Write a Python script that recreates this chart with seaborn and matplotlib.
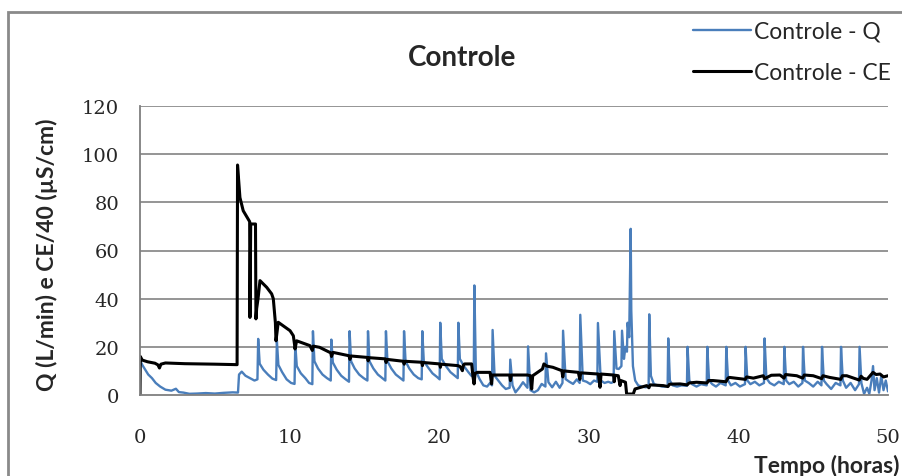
import matplotlib
matplotlib.use("Agg")
import matplotlib.pyplot as plt
from matplotlib.patches import Rectangle
import seaborn as sns

# Flow rate Q (L/min) over time (hours)
q_time = [
    0.00, 0.15, 0.35, 0.55, 0.80, 1.05, 1.35, 1.70, 2.10, 2.40, 2.60, 2.90, 3.30, 3.80, 4.40, 5.00, 5.60, 6.20, 6.55,
    6.62, 6.80, 7.05, 7.35, 7.65, 7.85,
    7.90, 8.00, 8.25, 8.55, 8.85, 9.10,
    9.15, 9.25, 9.50, 9.80, 10.10, 10.33,
    10.38, 10.48, 10.75, 11.05, 11.30, 11.52,
    11.56, 11.66, 11.90, 12.20, 12.50, 12.75,
    12.79, 12.89, 13.15, 13.45, 13.75, 13.97,
    14.01, 14.11, 14.35, 14.65, 14.95, 15.20,
    15.24, 15.34, 15.60, 15.90, 16.20, 16.40,
    16.44, 16.54, 16.80, 17.10, 17.40, 17.61,
    17.65, 17.75, 18.00, 18.30, 18.60, 18.83,
    18.87, 18.97, 19.25, 19.55, 19.85, 20.03,
    20.07, 20.17, 20.45, 20.75, 21.05, 21.24,
    21.28, 21.38, 21.65, 21.95, 22.15, 22.31,
    22.35, 22.45, 22.70, 22.95, 23.20, 23.40, 23.53,
    23.57, 23.70, 23.95, 24.20, 24.45, 24.71,
    24.75, 24.90, 25.10, 25.35, 25.60, 25.90,
    25.94, 26.10, 26.35, 26.60, 26.85, 27.10,
    27.14, 27.30, 27.55, 27.80, 28.05, 28.24,
    28.28, 28.45, 28.70, 28.95, 29.20, 29.39,
    29.43, 29.60, 29.85, 30.10, 30.35, 30.57,
    30.61, 30.80, 31.05, 31.30, 31.50, 31.66,
    31.70, 31.85, 32.00, 32.18,
    32.22, 32.35, 32.45, 32.55,
    32.59, 32.70, 32.80,
    32.84, 32.95, 33.10, 33.30, 33.55, 33.80, 34.00,
    34.04, 34.15, 34.35, 34.60, 34.90, 35.10, 35.27,
    35.31, 35.42, 35.60, 35.90, 36.20, 36.56,
    36.60, 36.72, 36.90, 37.20, 37.50, 37.88,
    37.92, 38.04, 38.25, 38.50, 38.80, 39.15,
    39.19, 39.31, 39.50, 39.80, 40.10, 40.44,
    40.48, 40.60, 40.80, 41.10, 41.40, 41.71,
    41.75, 41.87, 42.10, 42.40, 42.70, 43.03,
    43.07, 43.19, 43.40, 43.70, 44.00, 44.28,
    44.32, 44.44, 44.70, 45.00, 45.30, 45.55,
    45.59, 45.71, 45.90, 46.20, 46.50, 46.82,
    46.86, 46.98, 47.20, 47.50, 47.80, 48.06,
    48.10, 48.22, 48.40, 48.60, 48.75, 48.90, 49.00, 49.10, 49.25, 49.40, 49.55, 49.70, 49.85, 50.00,
]
q_value = [
    14.5, 12.5, 10.5, 8.5, 7.0, 5.0, 3.5, 2.2, 1.8, 2.6, 1.2, 1.0, 0.5, 0.6, 0.8, 0.6, 0.9, 1.1, 1.0,
    8.5, 9.7, 8.0, 7.0, 6.0, 6.5,
    23.3, 13.0, 10.5, 8.5, 6.8, 6.2,
    22.5, 12.5, 9.5, 6.5, 5.0, 4.6,
    21.0, 12.0, 9.0, 7.0, 5.0, 4.5,
    26.5, 14.0, 11.0, 8.5, 7.0, 6.0,
    23.0, 13.5, 10.5, 8.0, 6.5, 5.5,
    26.5, 14.0, 11.0, 8.5, 7.0, 6.0,
    26.5, 14.0, 11.0, 8.5, 7.0, 6.0,
    26.5, 14.0, 11.0, 8.5, 7.0, 6.0,
    26.5, 14.0, 11.0, 8.5, 7.0, 6.5,
    26.5, 14.0, 11.5, 9.0, 7.5, 6.5,
    30.0, 15.0, 12.0, 9.5, 8.0, 7.0,
    30.0, 15.0, 12.0, 9.5, 8.0, 7.5,
    45.5, 10.0, 6.6, 4.0, 3.5, 5.0, 4.0,
    27.0, 8.0, 6.0, 4.0, 2.5, 3.0,
    14.7, 4.0, 1.1, 3.0, 5.3, 3.0,
    20.2, 2.0, 1.1, 2.0, 4.6, 3.5,
    17.3, 5.3, 3.2, 5.5, 3.0, 5.0,
    26.7, 6.6, 5.5, 4.6, 6.5, 5.0,
    33.3, 6.0, 5.5, 4.5, 6.0, 5.5,
    29.9, 6.0, 5.0, 5.5, 5.0, 5.5,
    26.5, 11.0, 10.8, 12.0,
    26.7, 15.0, 20.0, 18.0,
    30.0, 24.0, 69.0,
    35.0, 12.0, 6.0, 4.0, 3.5, 3.2, 3.5,
    33.5, 8.0, 4.5, 4.0, 3.5, 3.5, 3.8,
    23.5, 6.0, 4.0, 3.5, 4.0, 3.8,
    20.0, 6.0, 4.5, 3.5, 4.5, 4.0,
    20.0, 6.0, 4.5, 3.5, 5.0, 4.0,
    20.0, 6.0, 4.0, 5.0, 3.5, 4.5,
    20.0, 6.0, 4.5, 5.5, 4.0, 5.0,
    23.5, 7.0, 5.0, 4.0, 5.5, 4.5,
    20.0, 6.0, 4.5, 5.5, 3.5, 5.0,
    20.0, 6.0, 5.0, 3.5, 5.5, 4.0,
    20.0, 6.0, 4.5, 2.5, 5.0, 4.0,
    20.0, 6.0, 3.0, 5.0, 2.0, 4.5,
    20.0, 5.0, 0.5, 3.0, 0.5, 6.0, 12.0, 2.0, 7.0, 1.0, 8.0, 2.0, 6.0, 1.5,
]

# Electrical conductivity divided by 40 (uS/cm) over time (hours)
ce_time = [
    0.00, 0.02, 0.15, 0.50, 1.00, 1.20, 1.30, 1.40, 1.70, 3.00, 5.00, 6.49,
    6.52, 6.68, 6.90, 7.24, 7.33, 7.35, 7.40, 7.47, 7.62, 7.72, 7.75, 7.80, 7.89, 8.02,
    8.47, 8.80, 8.91, 9.05, 9.09, 9.24, 10.03, 10.25, 10.33, 10.36, 10.47,
    11.36, 11.52, 11.58, 12.00, 12.75, 12.80, 12.90, 13.97, 14.03, 14.10,
    15.20, 15.25, 15.30, 16.40, 16.45, 16.50, 17.61, 17.66, 17.70, 18.83, 18.88, 18.92,
    20.03, 20.08, 20.12, 21.24, 21.40, 21.55, 21.62, 21.70, 22.17, 22.25, 22.33, 22.40, 22.55,
    23.40, 23.50, 23.55, 23.70, 24.71, 24.76, 24.82, 25.90, 26.10, 26.18, 26.25, 26.90, 27.00, 27.19,
    27.60, 28.20, 28.26, 28.32, 29.30, 29.40, 29.46, 30.64, 30.75, 30.82, 31.66, 31.70, 31.75,
    31.97, 32.09, 32.15, 32.45, 32.53, 32.56, 32.97, 33.09, 33.87, 34.02, 34.10,
    34.98, 35.29, 35.40, 36.10, 36.58, 36.70, 37.20, 37.90, 38.00, 38.30, 39.17, 39.30,
    39.40, 40.46, 40.55, 41.00, 41.66, 41.75, 42.20, 42.78, 43.05, 43.15, 43.90, 44.30,
    44.40, 45.00, 45.57, 45.65, 46.10, 46.84, 46.95, 47.24, 48.08, 48.20, 48.35, 48.60,
    49.00, 49.20, 49.47, 49.70, 50.00,
]
ce_value = [
    0.0, 16.0, 14.5, 13.8, 13.2, 12.5, 11.2, 12.8, 13.3, 13.0, 12.8, 12.6,
    95.5, 82.0, 76.5, 73.0, 72.0, 32.2, 71.0, 71.0, 71.0, 71.0, 31.6, 36.0, 40.0, 47.5,
    44.7, 42.0, 40.0, 30.0, 22.5, 30.2, 26.7, 24.6, 21.0, 19.1, 22.5,
    20.5, 18.5, 20.3, 19.8, 17.5, 16.0, 17.7, 16.3, 14.8, 16.2,
    15.6, 14.2, 15.5, 15.0, 13.5, 14.8, 14.0, 12.8, 14.0, 13.6, 12.2, 13.5,
    12.9, 11.5, 12.8, 12.2, 11.8, 10.1, 12.5, 12.9, 12.9, 8.0, 4.6, 9.0, 9.4,
    9.4, 4.6, 8.3, 8.3, 8.3, 6.0, 8.3, 8.3, 8.0, 2.5, 8.0, 10.8, 12.9, 12.0,
    11.5, 10.1, 7.5, 10.0, 9.4, 6.5, 9.2, 8.7, 3.2, 8.7, 8.3, 5.5, 8.2,
    8.0, 3.9, 6.0, 5.3, 0.4, 0.4, 0.4, 2.5, 3.9, 3.0, 4.2,
    3.9, 3.5, 4.5, 4.6, 4.2, 5.0, 5.3, 5.0, 6.0, 6.0, 5.5, 7.0,
    7.3, 6.5, 7.5, 7.0, 8.0, 6.8, 8.2, 8.3, 7.0, 8.5, 8.0, 7.0,
    8.3, 8.0, 6.8, 8.0, 7.3, 6.5, 8.0, 8.0, 6.2, 7.8, 6.9, 6.5,
    9.4, 8.5, 8.7, 7.5, 8.0,
]

x_ticks = [0, 10, 20, 30, 40, 50]
y_ticks = [0, 20, 40, 60, 80, 100, 120]

q_color = "#4A7EBB"
ce_color = "#000000"
grid_color = "#8C8C8C"

sns.set_style("white")
plt.rcParams["font.family"] = ["Lato", "DejaVu Sans"]

W, H = 902, 477
fig = plt.figure(figsize=(W / 100, H / 100), dpi=100)
ax = fig.add_axes([140 / W, 1 - 396 / H, (888 - 140) / W, (396 - 107) / H])

sns.lineplot(x=q_time, y=q_value, ax=ax, color=q_color, linewidth=1.7,
             estimator=None, sort=False, label="Controle - Q")
sns.lineplot(x=ce_time, y=ce_value, ax=ax, color=ce_color, linewidth=2.2,
             estimator=None, sort=False, label="Controle - CE")

ax.set_xlim(0, 50)
ax.set_ylim(0, 120)
ax.set_xticks(x_ticks)
ax.set_yticks(y_ticks)
ax.tick_params(axis="both", length=0, labelsize=14)
ax.tick_params(axis="x", pad=24)
ax.tick_params(axis="y", pad=15)
for lbl in ax.get_xticklabels() + ax.get_yticklabels():
    lbl.set_family(["DejaVu Serif"])

for v in y_ticks[1:]:
    ax.axhline(v, color=grid_color, linewidth=1.3, zorder=0)
for side in ("top", "right"):
    ax.spines[side].set_visible(False)
for side in ("left", "bottom"):
    ax.spines[side].set_color("#7F7F7F")
    ax.spines[side].set_linewidth(1.3)

ax.set_title("Controle", fontsize=20, fontweight="bold", x=(462 - 140) / 748, y=1.142, pad=0)
ax.set_ylabel("Q (L/min) e CE/40 (µS/cm)", fontsize=16.5, fontweight="bold")
ax.yaxis.set_label_coords((58 - 140) / 748, 0.488)
ax.set_xlabel("Tempo (horas)", fontsize=16.5, fontweight="bold",
              ha="right", va="center")
ax.xaxis.set_label_coords((900 - 140) / 748, (396 - 466) / 289)

handles, labels = ax.get_legend_handles_labels()
ax.get_legend().remove()
fig.legend(handles, labels, loc="upper left", bbox_to_anchor=(693 / W, 1 - 22 / H),
           frameon=False, fontsize=16.5, handlelength=2.55, handletextpad=0.1,
           labelspacing=0.88, borderpad=0, borderaxespad=0)

# chart-area border
fig.patches.append(Rectangle((8 / W, -0.1), 1.2, 1.1 - 13 / H, transform=fig.transFigure,
                             fill=False, edgecolor="#8A8A8A", linewidth=2, clip_on=False))

fig.savefig("out.png", dpi=100)
